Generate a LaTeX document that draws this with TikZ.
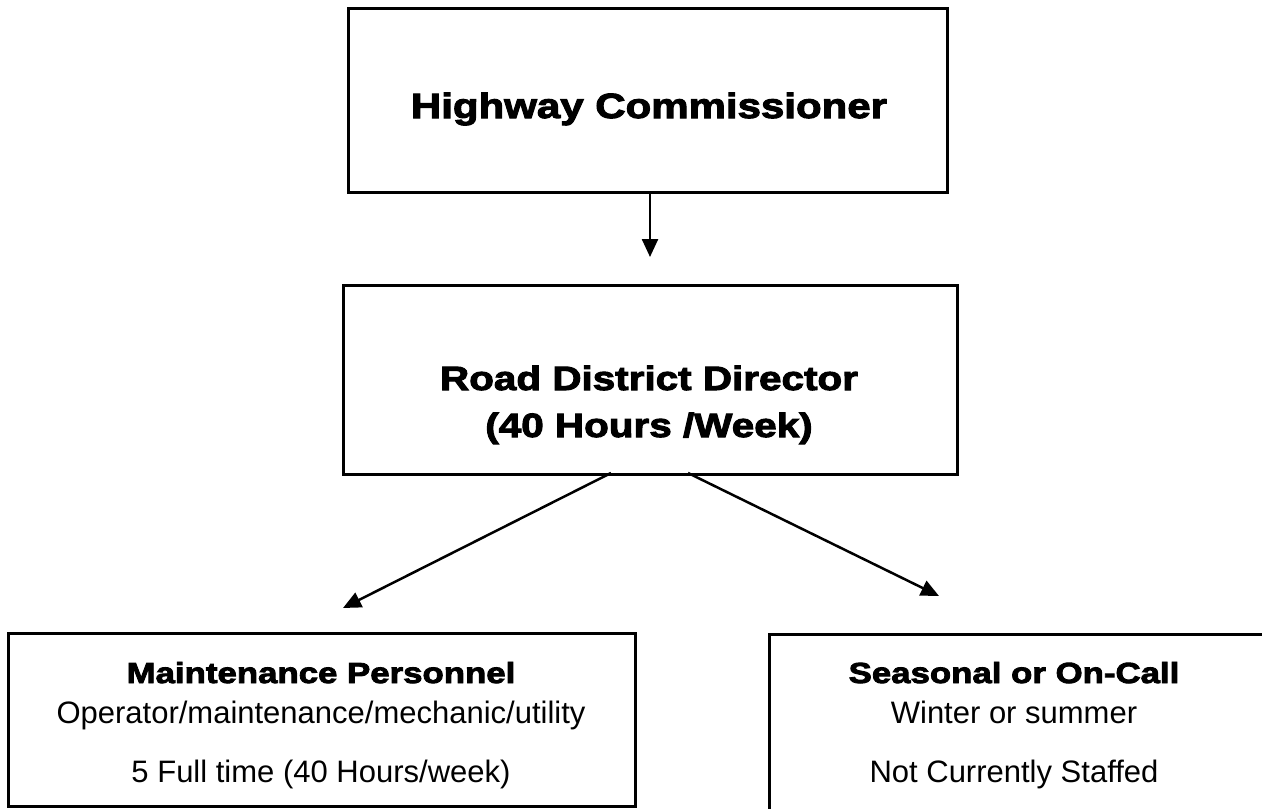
\documentclass[tikz,border=0pt]{standalone}
\usepackage{fontspec}
\setmainfont{Liberation Sans}
\newfontfamily\headfont{Liberation Sans}[BoldFeatures={FakeStretch=1.2,FakeBold=3}]
\usetikzlibrary{arrows.meta}
\begin{document}
\begin{tikzpicture}[x=1pt,y=-1pt,
  box/.style={draw, line width=2.5pt, inner sep=0pt},
  conn/.style={line width=2.5pt, -{Triangle[length=18pt,width=16pt]}},
  head/.style={font=\headfont\bfseries\fontsize{35}{40}\selectfont, anchor=base, inner sep=0pt},
  midhead/.style={font=\headfont\bfseries\fontsize{33.7}{40}\selectfont, anchor=base, inner sep=0pt},
  subhead/.style={font=\headfont\bfseries\fontsize{29}{34}\selectfont, anchor=base, inner sep=0pt},
  body/.style={font=\fontsize{31}{36}\selectfont, anchor=base, inner sep=0pt}]
\useasboundingbox (0,0) rectangle (1262,809);
\clip (0,0) rectangle (1262,809);
% boxes
\node[box, minimum width=599pt, minimum height=184pt, anchor=north west] (hc) at (347,7) {};
\node[box, minimum width=614pt, minimum height=189pt, anchor=north west] (rd) at (342,284) {};
\node[box, minimum width=627pt, minimum height=173pt, anchor=north west] (mp) at (7,632) {};
\node[box, minimum width=520pt, minimum height=200pt, anchor=north west] (so) at (768,633) {};
% texts
\node[head] (hct) at (649,118) {Highway Commissioner};
\node[midhead] (rdt1) at (649,390) {Road District Director};
\node[midhead] (rdt2) at (649,437) {(40 Hours /Week)};
\node[subhead] (mpt1) at (321,683) {Maintenance Personnel};
\node[body] (mpt2) at (321,723) {Operator/maintenance/mechanic/utility};
\node[body] (mpt3) at (321,782) {5 Full time (40 Hours/week)};
\node[subhead] (sot1) at (1014,683) {Seasonal or On-Call};
\node[body] (sot2) at (1014,723) {Winter or summer};
\node[body] (sot3) at (1014,782) {Not Currently Staffed};
% connectors
\coordinate (a1s) at (650,191);
\coordinate (a1e) at (650,257);
\coordinate (a2s) at (611,473);
\coordinate (a2e) at (343,608);
\coordinate (a3s) at (688,473);
\coordinate (a3e) at (939,596);
\draw[conn] (a1s) -- (a1e);
\draw[conn] (a2s) -- (a2e);
\draw[conn] (a3s) -- (a3e);
\end{tikzpicture}
\end{document}
